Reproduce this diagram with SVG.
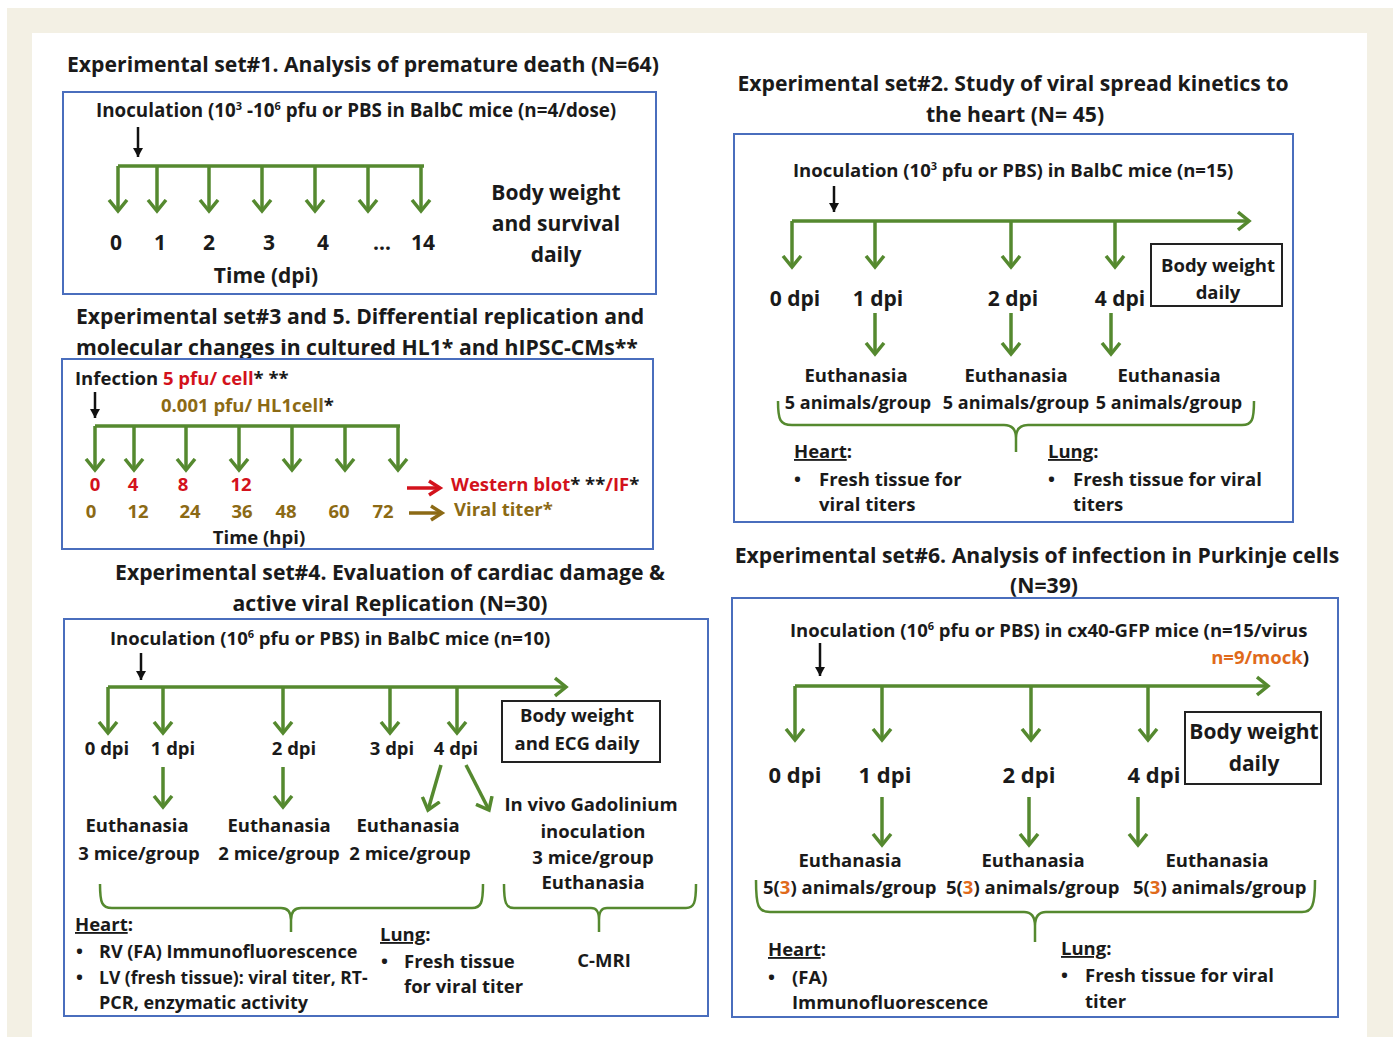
<svg xmlns="http://www.w3.org/2000/svg" width="1393" height="1037" viewBox="0 0 1393 1037">
<defs>
<style>
text{font-family:"Open Sans","Lato","Liberation Sans",sans-serif;font-weight:bold;fill:#1a1a1a}
.t{font-size:21.2px}
.s{font-size:18.5px}
.m{font-size:18.5px}
.l{font-size:21px}
.c{text-anchor:middle}
.red{fill:#d3121c}
.ol{fill:#8c6a15}
.or{fill:#e06a1b}
.u{text-decoration:underline}
.box{fill:none;stroke:#4a6ebd;stroke-width:2}
.bw{fill:#fff;stroke:#222;stroke-width:2}
.g{fill:none;stroke:#55892f;stroke-width:3.5}
.ga{fill:none;stroke:#55892f;stroke-width:3.5;marker-end:url(#gh)}
.br{fill:none;stroke:#55892f;stroke-width:2.5}
.bk{stroke:#111;stroke-width:2.5;marker-end:url(#bh)}
</style>
<marker id="gh" markerUnits="userSpaceOnUse" markerWidth="24" markerHeight="24" viewBox="-12 -12 24 24" refX="0" refY="0" orient="auto">
<path d="M-11,-9 L0,0 L-11,9" fill="none" stroke="#55892f" stroke-width="3.5"/>
</marker>
<marker id="rh" markerUnits="userSpaceOnUse" markerWidth="24" markerHeight="24" viewBox="-12 -12 24 24" refX="0" refY="0" orient="auto">
<path d="M-11,-7 L0,0 L-11,7" fill="none" stroke="#d3121c" stroke-width="3.5"/>
</marker>
<marker id="oh" markerUnits="userSpaceOnUse" markerWidth="24" markerHeight="24" viewBox="-12 -12 24 24" refX="0" refY="0" orient="auto">
<path d="M-11,-7 L0,0 L-11,7" fill="none" stroke="#8c6a15" stroke-width="3.5"/>
</marker>
<marker id="bh" markerUnits="userSpaceOnUse" markerWidth="16" markerHeight="16" viewBox="-10 -8 16 16" refX="0" refY="0" orient="auto">
<path d="M-9,-5 L0,0 L-9,5 Z" fill="#111"/>
</marker>
</defs>
<rect x="0" y="0" width="1393" height="1037" fill="#fff"/>
<rect x="7" y="8" width="1386" height="1029" fill="#f3f0e4"/>
<rect x="32" y="33" width="1335" height="1004" fill="#fff"/>

<!-- Panel 1 -->
<g id="set1">
<text class="t" x="67" y="72">Experimental set#1. Analysis of premature death (N=64)</text>
<rect class="box" x="63" y="92" width="593" height="202"/>
<text class="s" x="96" y="117" style="font-size:18.8px">Inoculation (10<tspan font-size="11" dy="-7">3</tspan><tspan dy="7"> -10</tspan><tspan font-size="11" dy="-7">6</tspan><tspan dy="7"> pfu or PBS in BalbC mice (n=4/dose)</tspan></text>
<text class="l" y="250"><tspan x="110">0</tspan><tspan x="154">1</tspan><tspan x="203">2</tspan><tspan x="263">3</tspan><tspan x="317">4</tspan><tspan x="373">…</tspan><tspan x="411">14</tspan></text>
<text class="l c" x="266" y="283">Time (dpi)</text>
<text class="l c" x="556" y="200">Body weight</text>
<text class="l c" x="556" y="231">and survival</text>
<text class="l c" x="556" y="262">daily</text>
</g>

<!-- Panel 2 -->
<g id="set2">
<text class="t c" x="1013" y="91">Experimental set#2. Study of viral spread kinetics to</text>
<text class="t c" x="1015" y="122">the heart (N= 45)</text>
<rect class="box" x="734" y="134" width="559" height="388"/>
<text class="s" x="793" y="177">Inoculation (10<tspan font-size="11" dy="-7">3</tspan><tspan dy="7"> pfu or PBS) in BalbC mice (n=15)</tspan></text>
<text class="l c" y="306"><tspan x="795">0 dpi</tspan><tspan x="878">1 dpi</tspan><tspan x="1013">2 dpi</tspan><tspan x="1120">4 dpi</tspan></text>
<rect class="bw" x="1151" y="244" width="131" height="62"/>
<text class="m c" x="1218" y="272">Body weight</text>
<text class="m c" x="1218" y="299">daily</text>
<text class="m c" y="382"><tspan x="856">Euthanasia</tspan><tspan x="1016">Euthanasia</tspan><tspan x="1169">Euthanasia</tspan></text>
<text class="m c" y="409" style="font-size:18px"><tspan x="858">5 animals/group</tspan><tspan x="1016">5 animals/group</tspan><tspan x="1169">5 animals/group</tspan></text>
<text class="m" x="794" y="458"><tspan class="u">Heart</tspan>:</text>
<text class="m" x="794" y="486">•</text>
<text class="m" x="819" y="486">Fresh tissue for</text>
<text class="m" x="819" y="511">viral titers</text>
<text class="m" x="1048" y="458"><tspan class="u">Lung</tspan>:</text>
<text class="m" x="1048" y="486">•</text>
<text class="m" x="1073" y="486">Fresh tissue for viral</text>
<text class="m" x="1073" y="511">titers</text>
</g>

<!-- Panel 3 -->
<g id="set3">
<text class="t" x="76" y="324">Experimental set#3 and 5. Differential replication and</text>
<text class="t" x="76" y="355">molecular changes in cultured HL1* and hIPSC-CMs**</text>
<rect class="box" x="62" y="359" width="591" height="190"/>
<text class="s" x="75" y="385">Infection <tspan class="red">5 pfu/ cell</tspan>*  **</text>
<text class="s ol" x="161" y="412">0.001 pfu/ HL1cell<tspan fill="#1a1a1a">*</tspan></text>
<text class="s red c" y="491"><tspan x="95">0</tspan><tspan x="133">4</tspan><tspan x="183">8</tspan><tspan x="241">12</tspan></text>
<text class="s ol c" y="518"><tspan x="91">0</tspan><tspan x="138">12</tspan><tspan x="190">24</tspan><tspan x="242">36</tspan><tspan x="286">48</tspan><tspan x="339">60</tspan><tspan x="383">72</tspan></text>
<text class="s" x="451" y="491"><tspan class="red">Western blot</tspan>* **<tspan class="red">/IF</tspan>*</text>
<text class="s ol" x="454" y="516">Viral titer*</text>
<text class="s c" x="259" y="544">Time (hpi)</text>
</g>

<!-- Panel 4 -->
<g id="set4">
<text class="t c" x="390" y="580">Experimental set#4. Evaluation of cardiac damage &amp;</text>
<text class="t c" x="390" y="611">active viral Replication (N=30)</text>
<rect class="box" x="64" y="619" width="644" height="397"/>
<text class="s" x="110" y="645">Inoculation (10<tspan font-size="11" dy="-7">6</tspan><tspan dy="7"> pfu or PBS) in BalbC mice (n=10)</tspan></text>
<text class="s c" y="755"><tspan x="107">0 dpi</tspan><tspan x="173">1 dpi</tspan><tspan x="294">2 dpi</tspan><tspan x="392">3 dpi</tspan><tspan x="456">4 dpi</tspan></text>
<rect class="bw" x="502" y="701" width="158" height="61"/>
<text class="s c" x="577" y="722">Body weight</text>
<text class="s c" x="577" y="750">and ECG daily</text>
<text class="s c" y="832"><tspan x="137">Euthanasia</tspan><tspan x="279">Euthanasia</tspan><tspan x="408">Euthanasia</tspan></text>
<text class="s c" y="860"><tspan x="139">3 mice/group</tspan><tspan x="279">2 mice/group</tspan><tspan x="410">2 mice/group</tspan></text>
<text class="s c" x="591" y="811">In vivo Gadolinium</text>
<text class="s c" x="593" y="838">inoculation</text>
<text class="s c" x="593" y="864">3 mice/group</text>
<text class="s c" x="593" y="889">Euthanasia</text>
<text class="s" x="75" y="931"><tspan class="u">Heart</tspan>:</text>
<text class="s" x="76" y="958">•</text>
<text class="s" x="99" y="958" style="font-size:18px">RV (FA) Immunofluorescence</text>
<text class="s" x="76" y="984">•</text>
<text class="s" x="99" y="984" style="font-size:17.5px">LV (fresh tissue): viral titer, RT-</text>
<text class="s" x="99" y="1009" style="font-size:18px">PCR, enzymatic activity</text>
<text class="s" x="380" y="941"><tspan class="u">Lung</tspan>:</text>
<text class="s" x="381" y="968">•</text>
<text class="s" x="404" y="968">Fresh tissue</text>
<text class="s" x="404" y="993">for viral titer</text>
<text class="s c" x="604" y="967">C-MRI</text>
</g>

<!-- Panel 6 -->
<g id="set6">
<text class="t c" x="1037" y="563">Experimental set#6. Analysis of infection in Purkinje cells</text>
<text class="t c" x="1044" y="593">(N=39)</text>
<rect class="box" x="732" y="598" width="606" height="419"/>
<text class="s" x="790" y="637">Inoculation (10<tspan font-size="11" dy="-7">6</tspan><tspan dy="7"> pfu or PBS) in cx40-GFP mice (n=15/virus</tspan></text>
<text class="s" x="1309" y="664" text-anchor="end"><tspan class="or">n=9/mock</tspan>)</text>
<text class="l c" y="783" style="font-size:22px"><tspan x="795">0 dpi</tspan><tspan x="885">1 dpi</tspan><tspan x="1029">2 dpi</tspan><tspan x="1154">4 dpi</tspan></text>
<rect class="bw" x="1185" y="712" width="136" height="72"/>
<text class="l c" x="1254" y="739">Body weight</text>
<text class="l c" x="1254" y="771">daily</text>
<text class="m c" y="867"><tspan x="850">Euthanasia</tspan><tspan x="1033">Euthanasia</tspan><tspan x="1217">Euthanasia</tspan></text>
<text class="m" y="894"><tspan x="763">5(<tspan class="or">3</tspan>) animals/group</tspan></text>
<text class="m" y="894"><tspan x="946">5(<tspan class="or">3</tspan>) animals/group</tspan></text>
<text class="m" y="894"><tspan x="1133">5(<tspan class="or">3</tspan>) animals/group</tspan></text>
<text class="m" x="768" y="956"><tspan class="u">Heart</tspan>:</text>
<text class="m" x="768" y="984">•</text>
<text class="m" x="792" y="984">(FA)</text>
<text class="m" x="792" y="1009">Immunofluorescence</text>
<text class="m" x="1061" y="955"><tspan class="u">Lung</tspan>:</text>
<text class="m" x="1061" y="982">•</text>
<text class="m" x="1085" y="982">Fresh tissue for viral</text>
<text class="m" x="1085" y="1008">titer</text>
</g>

<g id="connectors">
<!-- set1 -->
<line class="bk" x1="138" y1="127" x2="138" y2="157"/>
<line class="g" x1="118" y1="166" x2="424" y2="166"/>
<line class="ga" x1="118" y1="166" x2="118" y2="211"/>
<line class="ga" x1="157" y1="166" x2="157" y2="211"/>
<line class="ga" x1="209" y1="166" x2="209" y2="211"/>
<line class="ga" x1="262" y1="166" x2="262" y2="211"/>
<line class="ga" x1="315" y1="166" x2="315" y2="211"/>
<line class="ga" x1="368" y1="166" x2="368" y2="211"/>
<line class="ga" x1="421" y1="166" x2="421" y2="211"/>
<!-- set2 -->
<line class="bk" x1="834" y1="186" x2="834" y2="212"/>
<line class="ga" x1="792" y1="221" x2="1249" y2="221"/>
<line class="ga" x1="792" y1="221" x2="792" y2="267"/>
<line class="ga" x1="875" y1="221" x2="875" y2="267"/>
<line class="ga" x1="1011" y1="221" x2="1011" y2="267"/>
<line class="ga" x1="1115" y1="221" x2="1115" y2="267"/>
<line class="ga" x1="875" y1="313" x2="875" y2="354"/>
<line class="ga" x1="1011" y1="313" x2="1011" y2="354"/>
<line class="ga" x1="1111" y1="313" x2="1111" y2="354"/>
<path class="br" d="M778,401 C778,420 780,425 792,425 L1004,425 C1012,425 1016,429 1016,438 L1016,452 M1016,438 C1016,429 1020,425 1028,425 L1242,425 C1252,425 1254,420 1254,401"/>
<!-- set3 -->
<line class="bk" x1="95" y1="392" x2="95" y2="418"/>
<line class="g" x1="95" y1="426" x2="400" y2="426"/>
<line class="ga" x1="95" y1="426" x2="95" y2="470"/>
<line class="ga" x1="134" y1="426" x2="134" y2="470"/>
<line class="ga" x1="186" y1="426" x2="186" y2="470"/>
<line class="ga" x1="239" y1="426" x2="239" y2="470"/>
<line class="ga" x1="292" y1="426" x2="292" y2="470"/>
<line class="ga" x1="345" y1="426" x2="345" y2="470"/>
<line class="ga" x1="398" y1="426" x2="398" y2="470"/>
<line x1="407" y1="488" x2="440" y2="488" stroke="#d3121c" stroke-width="3.5" marker-end="url(#rh)"/>
<line x1="409" y1="513" x2="442" y2="513" stroke="#8c6a15" stroke-width="3.5" marker-end="url(#oh)"/>
<!-- set4 -->
<line class="bk" x1="141" y1="653" x2="141" y2="680"/>
<line class="ga" x1="108" y1="687" x2="566" y2="687"/>
<line class="ga" x1="108" y1="687" x2="108" y2="733"/>
<line class="ga" x1="163" y1="687" x2="163" y2="733"/>
<line class="ga" x1="283" y1="687" x2="283" y2="733"/>
<line class="ga" x1="390" y1="687" x2="390" y2="733"/>
<line class="ga" x1="457" y1="687" x2="457" y2="733"/>
<line class="ga" x1="163" y1="767" x2="163" y2="807"/>
<line class="ga" x1="283" y1="767" x2="283" y2="807"/>
<line class="ga" x1="441" y1="765" x2="428" y2="810"/>
<line class="ga" x1="466" y1="765" x2="489" y2="810"/>
<path class="br" d="M100,884 C100,903 102,908 112,908 L281,908 C288,908 291,912 291,920 L291,932 M291,920 C291,912 294,908 301,908 L472,908 C481,908 483,903 483,884"/>
<path class="br" d="M504,884 C504,903 506,908 514,908 L591,908 C597,908 599,912 599,920 L599,932 M599,920 C599,912 601,908 607,908 L686,908 C694,908 696,903 696,884"/>
<!-- set6 -->
<line class="bk" x1="820" y1="643" x2="820" y2="676"/>
<line class="ga" x1="795" y1="686" x2="1268" y2="686"/>
<line class="ga" x1="795" y1="686" x2="795" y2="740"/>
<line class="ga" x1="882" y1="686" x2="882" y2="740"/>
<line class="ga" x1="1031" y1="686" x2="1031" y2="740"/>
<line class="ga" x1="1148" y1="686" x2="1148" y2="740"/>
<line class="ga" x1="882" y1="797" x2="882" y2="845"/>
<line class="ga" x1="1029" y1="797" x2="1029" y2="845"/>
<line class="ga" x1="1138" y1="797" x2="1138" y2="845"/>
<path class="br" d="M756,880 C756,906 758,912 770,912 L1024,912 C1031,912 1035,917 1035,926 L1035,942 M1035,926 C1035,917 1039,912 1046,912 L1302,912 C1312,912 1315,906 1315,880"/>
</g>
</svg>
